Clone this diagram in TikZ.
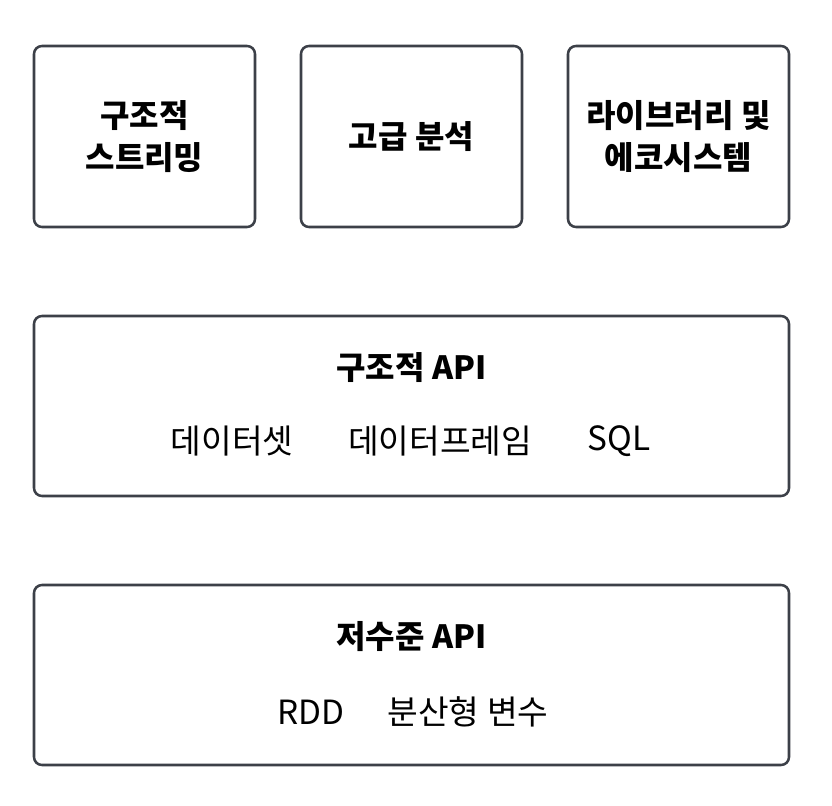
\documentclass[tikz,border=0pt]{standalone}
\usepackage{fontspec}
\newfontfamily\kr{Noto Sans CJK KR}
\definecolor{edge}{HTML}{3C4048}
\begin{document}
\begin{tikzpicture}[x=0.75pt,y=-0.75pt,
  box/.style={draw=edge,line width=1.9pt,rounded corners=6pt,inner sep=0pt},
  title/.style={font=\kr\bfseries\fontsize{24}{31.5}\selectfont,align=center,text=black,inner sep=0pt},
  item/.style={font=\kr\fontsize{25}{30}\selectfont,text=black,inner sep=0pt}]
\useasboundingbox[fill=white] (0,0) rectangle (832,806);
\node[box,minimum width=221*0.75pt,minimum height=181*0.75pt] (b1) at (144.5,136.5) {};
\node[box,minimum width=221*0.75pt,minimum height=181*0.75pt] (b2) at (411.5,136.5) {};
\node[box,minimum width=221*0.75pt,minimum height=181*0.75pt] (b3) at (678.5,136.5) {};
\node[box,minimum width=755*0.75pt,minimum height=180*0.75pt] (mid) at (411.5,406) {};
\node[box,minimum width=755*0.75pt,minimum height=180*0.75pt] (low) at (411.5,675) {};
\node[title] (t1) at (b1) {구조적\\스트리밍};
\node[title] (t2) at (b2) {고급 분석};
\node[title] (t3) at (b3) {라이브러리 및\\에코시스템};
\node[title] (tm) at (411.5,368) {구조적 API};
\node[item] (m1) at (232,441) {데이터셋};
\node[item] (m2) at (440,441) {데이터프레임};
\node[item] (m3) at (619,441) {SQL};
\node[title] (tl) at (411.5,637) {저수준 API};
\node[item] (l1) at (311,712) {RDD};
\node[item] (l2) at (468,712) {분산형 변수};
\end{tikzpicture}
\end{document}
